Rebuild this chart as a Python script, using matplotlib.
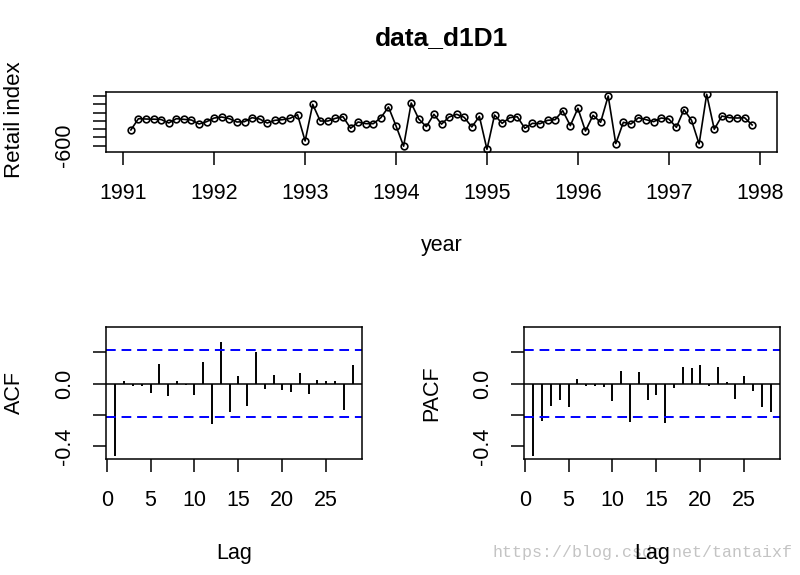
import numpy as np
import matplotlib
matplotlib.use("Agg")
import matplotlib.pyplot as plt

plt.rcParams['font.family'] = ['Liberation Sans', 'DejaVu Sans']

# differenced retail index, monthly Feb 1991 .. Dec 1997
start_year = 1991
start_month = 2
d1D1 = [-410, -274, -278, -280, -284, -326, -274, -282, -290, -338,
        -310, -266, -254, -274, -314, -310, -262, -278, -326, -294,
        -286, -270, -226, -543, -101, -302, -302, -270, -250, -390,
        -314, -334, -334, -262, -133, -362, -606, -85, -278, -370,
        -221, -340, -254, -221, -258, -374, -246, -644, -230, -330,
        -262, -250, -390, -330, -334, -294, -286, -178, -358, -149,
        -423, -233, -318, 0, -575, -318, -338, -262, -286, -310,
        -266, -278, -378, -165, -294, -579, 20, -402, -242, -262,
        -266, -262, -350]

lags = list(range(1, 29))
acf_vals = [-0.46, 0.019, -0.013, -0.015, -0.06, 0.126, -0.077, 0.015,
            -0.011, -0.073, 0.141, -0.257, 0.265, -0.184, 0.049, -0.141,
            0.203, -0.034, 0.056, -0.039, -0.053, 0.068, -0.064, 0.024,
            0.019, 0.019, -0.167, 0.122]
pacf_vals = [-0.46, -0.237, -0.143, -0.103, -0.152, 0.028, -0.015, -0.017,
             -0.021, -0.113, 0.079, -0.244, 0.073, -0.107, -0.073, -0.252,
             -0.026, 0.107, 0.100, 0.120, -0.013, 0.107, 0.013, -0.098,
             0.051, -0.047, -0.15, -0.182]
conf = 0.215

year_ticks = [1991, 1992, 1993, 1994, 1995, 1996, 1997, 1998]
lag_ticks = [0, 5, 10, 15, 20, 25]

W, H = 800, 575
fig = plt.figure(figsize=(W / 100, H / 100), dpi=100)


def box(l, t, r, b):
    return [l / W, 1 - b / H, (r - l) / W, (b - t) / H]


def r_style(ax):
    for s in ax.spines.values():
        s.set_linewidth(1.1)
    ax.tick_params(direction='out', length=9.5, width=1.1, pad=13,
                   labelsize=15.5, colors='black')
    for lab in ax.get_yticklabels():
        lab.set_rotation(90)
        lab.set_va('center')


# time series panel
t = start_year + (start_month - 1 + np.arange(len(d1D1))) / 12.0
ax1 = fig.add_axes(box(106, 92, 777, 152))
ax1.plot(t, d1D1, color='black', lw=1.2, marker='o', ms=4.8,
         mfc='none', mec='black', mew=1.2)
ax1.set_xlim(1990.81, 1998.19)
ax1.set_ylim(-676, 48)
ax1.set_xticks(year_ticks)
ax1.set_yticks([-600, -500, -400, -300, -200, -100, 0])
ax1.set_yticklabels(['-600', '', '', '', '', '', ''])
r_style(ax1)
fig.text(441.5 / W, 1 - 38 / H, 'data_d1D1', ha='center', va='center',
         fontsize=19, fontweight='bold')
fig.text(14 / W, 1 - 120 / H, 'Retail index', rotation=90, ha='center',
         va='center', fontsize=16)
fig.text(441.5 / W, 1 - 245 / H, 'year', ha='center', va='center',
         fontsize=15.5)


def corr_panel(l, r, vals, name):
    ax = fig.add_axes(box(l, 327, r, 459))
    ax.vlines(lags, 0, vals, color='black', lw=1.4)
    ax.axhline(0, color='black', lw=1.1)
    for c in (conf, -conf):
        ax.axhline(c, color='#0000ff', lw=1.4, dashes=(5, 3))
    ax.set_xlim(-0.08, 29.08)
    ax.set_ylim(-0.482, 0.363)
    ax.set_xticks(lag_ticks)
    ax.set_yticks([-0.4, -0.2, 0.0, 0.2])
    ax.set_yticklabels(['-0.4', '', '0.0', ''])
    r_style(ax)
    fig.text(((l + r) / 2) / W, 1 - 553 / H, 'Lag', ha='center',
             va='center', fontsize=15.5, zorder=5)
    fig.text((l - 92) / W, 1 - 393 / H, name, rotation=90, ha='center',
             va='center', fontsize=15.5)
    return ax


corr_panel(106, 362, acf_vals, 'ACF')
corr_panel(524, 780, pacf_vals, 'PACF')

fig.text(792 / W, 1 - 553 / H, 'https://blog.csdn.net/tantaixf',
         ha='right', va='center', fontsize=12, color='#c4c4c4',
         family=['Liberation Mono', 'DejaVu Sans Mono'], zorder=1)

fig.savefig('out.png', dpi=100)
